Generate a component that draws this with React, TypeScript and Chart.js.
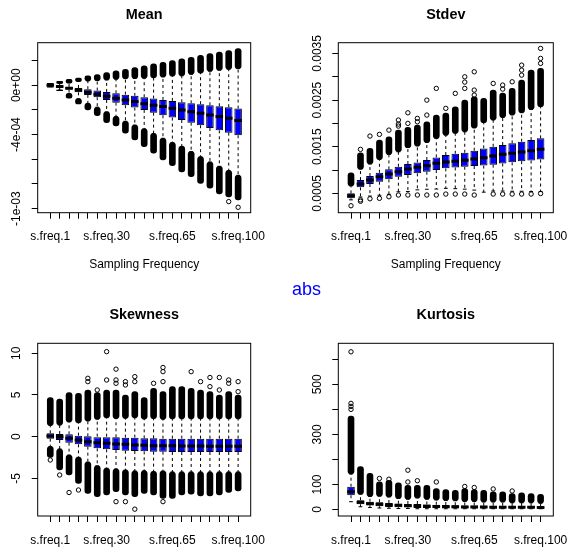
import React, { useEffect, useRef } from 'react';
import { Chart, registerables } from 'chart.js';

Chart.register(...registerables);

const FONT = "'Liberation Sans', Arial, Helvetica, sans-serif";

// Sampling frequencies on the x axis (one box per frequency)
const categories = [
  's.freq.1', 's.freq.5', 's.freq.10', 's.freq.15', 's.freq.20', 's.freq.25', 's.freq.30',
  's.freq.35', 's.freq.40', 's.freq.45', 's.freq.50', 's.freq.55', 's.freq.60', 's.freq.65',
  's.freq.70', 's.freq.75', 's.freq.80', 's.freq.85', 's.freq.90', 's.freq.95', 's.freq.100',
];
const labelledCategories = ['s.freq.1', 's.freq.30', 's.freq.65', 's.freq.100'];

// ---- Mean ----
const meanQ3 = [0.03e-4, -0.05e-4, -0.14e-4, -0.22e-4, -0.32e-4, -0.43e-4, -0.54e-4, -0.65e-4, -0.76e-4, -0.86e-4, -0.97e-4, -1.08e-4, -1.19e-4, -1.27e-4, -1.38e-4, -1.46e-4, -1.54e-4, -1.62e-4, -1.70e-4, -1.78e-4, -1.89e-4];
const meanMed = [0, -0.11e-4, -0.24e-4, -0.38e-4, -0.57e-4, -0.73e-4, -0.89e-4, -1.05e-4, -1.19e-4, -1.32e-4, -1.49e-4, -1.62e-4, -1.73e-4, -1.86e-4, -2.00e-4, -2.14e-4, -2.27e-4, -2.41e-4, -2.54e-4, -2.68e-4, -2.86e-4];
const meanQ1 = [-0.03e-4, -0.19e-4, -0.35e-4, -0.57e-4, -0.78e-4, -0.97e-4, -1.19e-4, -1.41e-4, -1.62e-4, -1.81e-4, -2.00e-4, -2.22e-4, -2.43e-4, -2.62e-4, -2.81e-4, -3.03e-4, -3.24e-4, -3.46e-4, -3.65e-4, -3.84e-4, -4.05e-4];
const meanHi = [0.11e-4, 0.15e-4, 0.19e-4, 0.31e-4, 0.36e-4, 0.38e-4, 0.43e-4, 0.49e-4, 0.54e-4, 0.55e-4, 0.57e-4, 0.62e-4, 0.68e-4, 0.76e-4, 0.77e-4, 0.89e-4, 1.01e-4, 1.14e-4, 1.22e-4, 1.30e-4, 1.35e-4];
const meanLo = [-0.11e-4, -0.39e-4, -0.68e-4, -1.09e-4, -1.47e-4, -1.78e-4, -2.16e-4, -2.54e-4, -2.92e-4, -3.23e-4, -3.54e-4, -3.92e-4, -4.30e-4, -4.65e-4, -4.96e-4, -5.38e-4, -5.80e-4, -6.22e-4, -6.57e-4, -6.92e-4, -7.30e-4];
const meanUpTop = [0.16e-4, 0.32e-4, 0.49e-4, 0.59e-4, 0.76e-4, 0.86e-4, 1.03e-4, 1.16e-4, 1.30e-4, 1.43e-4, 1.57e-4, 1.73e-4, 1.86e-4, 2.00e-4, 2.14e-4, 2.27e-4, 2.43e-4, 2.57e-4, 2.68e-4, 2.81e-4, 2.97e-4];
const meanDownBottom = [-0.16e-4, -0.43e-4, -1.05e-4, -1.51e-4, -2.00e-4, -2.46e-4, -3.03e-4, -3.30e-4, -3.89e-4, -4.43e-4, -4.97e-4, -5.51e-4, -6.05e-4, -6.51e-4, -7.03e-4, -7.41e-4, -7.95e-4, -8.35e-4, -8.81e-4, -9.05e-4, -9.30e-4];
const meanOutliers: [number, number][] = [[19, -9.43e-4], [20, -9.89e-4]];
const meanTicks = [-10e-4, -8e-4, -6e-4, -4e-4, -2e-4, 0, 2e-4];
const meanTickLabels = ['-1e-03', '', '', '-4e-04', '', '0e+00', ''];

// ---- Stdev ----
const sdQ3 = [5.00e-4, 7.85e-4, 8.71e-4, 9.41e-4, 10.14e-4, 10.70e-4, 11.28e-4, 11.64e-4, 12.14e-4, 12.71e-4, 13.21e-4, 13.49e-4, 13.70e-4, 14.13e-4, 14.64e-4, 14.99e-4, 15.35e-4, 15.72e-4, 16.06e-4, 16.42e-4, 16.79e-4];
const sdMed = [4.49e-4, 6.99e-4, 7.85e-4, 8.56e-4, 9.14e-4, 9.63e-4, 10.21e-4, 10.57e-4, 10.91e-4, 11.43e-4, 11.71e-4, 11.88e-4, 12.07e-4, 12.35e-4, 12.63e-4, 12.99e-4, 13.36e-4, 13.57e-4, 13.85e-4, 14.13e-4, 14.43e-4];
const sdQ1 = [3.93e-4, 6.29e-4, 6.99e-4, 7.49e-4, 8.00e-4, 8.56e-4, 8.92e-4, 9.29e-4, 9.63e-4, 9.99e-4, 10.36e-4, 10.55e-4, 10.70e-4, 10.85e-4, 10.95e-4, 11.15e-4, 11.40e-4, 11.65e-4, 11.90e-4, 12.05e-4, 12.25e-4];
const sdHi = [6.61e-4, 10.19e-4, 11.29e-4, 12.29e-4, 13.35e-4, 13.91e-4, 14.82e-4, 15.17e-4, 15.91e-4, 16.79e-4, 17.49e-4, 17.90e-4, 18.20e-4, 19.05e-4, 20.18e-4, 20.75e-4, 21.28e-4, 21.83e-4, 22.30e-4, 22.98e-4, 23.60e-4];
const sdLo = [3.60e-4, 4.21e-4, 4.42e-4, 4.59e-4, 4.79e-4, 5.34e-4, 5.39e-4, 5.75e-4, 5.88e-4, 5.92e-4, 6.07e-4, 6.00e-4, 5.90e-4, 5.70e-4, 5.25e-4, 5.50e-4, 5.50e-4, 5.45e-4, 5.45e-4, 5.40e-4, 5.40e-4];
const sdUpTop = [9.41e-4, 13.70e-4, 14.64e-4, 16.42e-4, 17.13e-4, 18.56e-4, 19.14e-4, 19.64e-4, 20.34e-4, 21.78e-4, 22.21e-4, 23.56e-4, 24.99e-4, 25.70e-4, 25.36e-4, 27.14e-4, 26.49e-4, 27.50e-4, 29.28e-4, 31.42e-4, 31.78e-4];
const sdDownBottom: (number | null)[] = categories.map(() => null);
const sdOutliers: [number, number][] = [
  [0, 2.34e-4], [1, 3.30e-4], [1, 3.60e-4], [1, 14.43e-4], [2, 3.84e-4], [2, 17.28e-4],
  [3, 3.93e-4], [3, 17.64e-4], [4, 4.27e-4], [4, 18.56e-4], [5, 4.64e-4], [5, 19.42e-4],
  [5, 19.85e-4], [5, 20.71e-4], [6, 4.64e-4], [6, 20.00e-4], [6, 22.27e-4], [7, 4.64e-4],
  [7, 20.34e-4], [7, 21.07e-4], [8, 4.64e-4], [8, 21.78e-4], [8, 24.99e-4], [9, 4.64e-4],
  [9, 27.50e-4], [10, 4.85e-4], [10, 23.22e-4], [11, 4.85e-4], [11, 26.43e-4], [12, 4.85e-4],
  [12, 27.50e-4], [12, 28.85e-4], [12, 29.99e-4], [13, 4.64e-4], [13, 26.07e-4], [13, 27.14e-4],
  [13, 31.06e-4], [15, 4.85e-4], [15, 28.57e-4], [16, 4.85e-4], [16, 27.35e-4], [16, 28.21e-4],
  [17, 4.85e-4], [17, 28.92e-4], [18, 4.85e-4], [18, 30.35e-4], [18, 31.42e-4], [18, 32.49e-4],
  [19, 4.85e-4], [20, 4.96e-4], [20, 32.86e-4], [20, 33.93e-4], [20, 36.07e-4],
];
const sdTicks = [5e-4, 10e-4, 15e-4, 20e-4, 25e-4, 30e-4, 35e-4];
const sdTickLabels = ['0.0005', '', '0.0015', '', '0.0025', '', '0.0035'];

// ---- Skewness ----
const skQ3 = [0.40, 0.32, 0.28, 0.12, 0.04, 0.00, 0.00, -0.08, -0.12, -0.12, -0.20, -0.20, -0.24, -0.24, -0.24, -0.24, -0.24, -0.24, -0.24, -0.24, -0.24];
const skMed = [0.08, 0.00, -0.20, -0.40, -0.60, -0.72, -0.80, -0.88, -0.92, -1.00, -1.04, -1.08, -1.10, -1.10, -1.12, -1.12, -1.12, -1.14, -1.14, -1.14, -1.14];
const skQ1 = [-0.24, -0.40, -0.72, -0.92, -1.20, -1.40, -1.52, -1.60, -1.68, -1.72, -1.76, -1.80, -1.80, -1.84, -1.84, -1.84, -1.84, -1.84, -1.84, -1.84, -1.84];
const skHi = [1.36, 1.40, 1.78, 1.68, 1.90, 2.10, 2.28, 2.20, 2.22, 2.28, 2.14, 2.20, 2.10, 2.16, 2.16, 2.16, 2.16, 2.16, 2.16, 2.16, 2.16];
const skLo = [-1.20, -1.48, -2.22, -2.48, -3.06, -3.50, -3.80, -3.88, -4.02, -4.12, -4.10, -4.20, -4.14, -4.24, -4.24, -4.24, -4.24, -4.24, -4.24, -4.24, -4.24];
const skUpTop = [4.70, 4.50, 5.30, 5.20, 5.60, 5.30, 5.60, 5.60, 5.00, 5.40, 4.70, 5.80, 5.40, 6.00, 6.00, 5.80, 5.60, 5.40, 5.00, 5.40, 5.00];
const skDownBottom = [-2.50, -4.00, -4.60, -5.60, -6.80, -7.20, -7.00, -6.60, -7.00, -7.20, -6.80, -7.00, -7.40, -7.40, -7.00, -6.90, -7.10, -7.10, -7.00, -6.70, -6.50];
const skOutliers: [number, number][] = [
  [0, -2.8], [1, -4.6], [2, -6.7], [3, -6.4], [4, 7.0], [4, 6.6], [5, 5.6], [6, 10.2], [6, 6.8],
  [7, 8.1], [7, 6.8], [7, 6.4], [7, -7.8], [8, 6.6], [8, 6.2], [8, -7.8], [9, 7.2], [9, 6.6],
  [9, -8.7], [11, 6.4], [12, 8.3], [12, 7.8], [12, 6.6], [12, -7.8], [15, 7.8], [16, 6.6],
  [17, 7.1], [17, 6.0], [18, 7.1], [18, 5.6], [19, 6.8], [19, 6.4], [20, 6.6], [20, 5.4],
];
const skTicks = [-5, 0, 5, 10];
const skTickLabels = ['-5', '0', '5', '10'];

// ---- Kurtosis ----
const kuQ3 = [91, 37, 31, 29, 26, 23, 22, 22, 20, 19, 18, 17, 16, 16, 15, 15, 15, 14, 14, 14, 13];
const kuMed = [71, 29, 23, 21, 18, 17, 15, 14, 13, 12, 11, 11, 10, 10, 10, 9, 9, 9, 9, 9, 8];
const kuQ1 = [57, 21, 17, 13, 10, 9, 9, 6, 6, 6, 6, 5, 5, 5, 5, 5, 5, 5, 5, 5, 5];
const kuHi = [142, 61, 52, 53, 50, 44, 41, 46, 41, 38, 36, 35, 32, 32, 30, 30, 30, 27, 27, 27, 25];
const kuLo = [31, 11, 8, 6, 5, 4, 4, 3, 3, 3, 3, 3, 3, 3, 3, 3, 3, 3, 3, 3, 3];
const kuUpTop = [373, 171, 144, 111, 117, 107, 97, 97, 97, 84, 80, 77, 84, 80, 77, 71, 71, 64, 67, 64, 61];
const kuDownBottom: (number | null)[] = categories.map(() => null);
const kuOutliers: [number, number][] = [
  [0, 630], [0, 424], [0, 412], [0, 400], [3, 124], [4, 121], [6, 157], [6, 110], [7, 115],
  [9, 110], [12, 92], [13, 88], [15, 82], [17, 74],
];
const kuTicks = [0, 100, 200, 300, 400, 500, 600];
const kuTickLabels = ['0', '100', '', '300', '', '500', ''];

type Stats = {
  title: string;
  q1: number[]; med: number[]; q3: number[]; lo: number[]; hi: number[];
  upTop: (number | null)[]; downBottom: (number | null)[];
  outliers: [number, number][];
  yMin: number; yMax: number;
  ticks: number[]; tickLabels: string[];
  xTitle: string | null;
};

type Frame = {
  x: number; y: number; width: number; height: number;
  plotLeft: number; plotTop: number; plotRight: number; plotBottom: number;
};

const panels: { stats: Stats; frame: Frame }[] = [
  {
    stats: {
      title: 'Mean', q1: meanQ1, med: meanMed, q3: meanQ3, lo: meanLo, hi: meanHi,
      upTop: meanUpTop, downBottom: meanDownBottom, outliers: meanOutliers,
      yMin: -10.33e-4, yMax: 3.45e-4, ticks: meanTicks, tickLabels: meanTickLabels,
      xTitle: 'Sampling Frequency',
    },
    frame: { x: 0, y: 0, width: 284, height: 274, plotLeft: 37.7, plotTop: 42.7, plotRight: 250.7, plotBottom: 212.7 },
  },
  {
    stats: {
      title: 'Stdev', q1: sdQ1, med: sdMed, q3: sdQ3, lo: sdLo, hi: sdHi,
      upTop: sdUpTop, downBottom: sdDownBottom, outliers: sdOutliers,
      yMin: 0.85e-4, yMax: 37.3e-4, ticks: sdTicks, tickLabels: sdTickLabels,
      xTitle: 'Sampling Frequency',
    },
    frame: { x: 284, y: 0, width: 284, height: 274, plotLeft: 54.3, plotTop: 42.7, plotRight: 269.3, plotBottom: 212.7 },
  },
  {
    stats: {
      title: 'Skewness', q1: skQ1, med: skMed, q3: skQ3, lo: skLo, hi: skHi,
      upTop: skUpTop, downBottom: skDownBottom, outliers: skOutliers,
      yMin: -9.52, yMax: 11.2, ticks: skTicks, tickLabels: skTickLabels,
      xTitle: null,
    },
    frame: { x: 0, y: 274, width: 284, height: 275, plotLeft: 37.7, plotTop: 69.3, plotRight: 250.7, plotBottom: 242 },
  },
  {
    stats: {
      title: 'Kurtosis', q1: kuQ1, med: kuMed, q3: kuQ3, lo: kuLo, hi: kuHi,
      upTop: kuUpTop, downBottom: kuDownBottom, outliers: kuOutliers,
      yMin: -26, yMax: 664, ticks: kuTicks, tickLabels: kuTickLabels,
      xTitle: null,
    },
    frame: { x: 284, y: 274, width: 284, height: 275, plotLeft: 54.3, plotTop: 69.3, plotRight: 269.3, plotBottom: 242 },
  },
];

// pixels per category step on the x scale
const unitPx = (chart: any) => {
  const sx = chart.scales.x;
  return Math.abs(sx.getPixelForValue(1) - sx.getPixelForValue(0));
};

function makeDecorations(s: Stats) {
  return {
    id: 'boxplotFrame',
    afterDraw(chart: any) {
      const { ctx, chartArea: a, scales } = chart;
      ctx.save();
      ctx.strokeStyle = '#000';
      ctx.lineWidth = 1;
      ctx.strokeRect(a.left, a.top, a.right - a.left, a.bottom - a.top);
      ctx.fillStyle = '#000';
      ctx.textAlign = 'center';
      ctx.textBaseline = 'middle';
      ctx.font = `bold 14.4px ${FONT}`;
      ctx.fillText(s.title, (a.left + a.right) / 2, a.top - 28);
      ctx.font = `12px ${FONT}`;
      s.ticks.forEach((v, k) => {
        const label = s.tickLabels[k];
        if (!label) return;
        const py = scales.y.getPixelForValue(v);
        ctx.save();
        ctx.translate(a.left - 21, py);
        ctx.rotate(-Math.PI / 2);
        ctx.fillText(label, 0, 0);
        ctx.restore();
      });
      if (s.xTitle) {
        ctx.fillText(s.xTitle, (a.left + a.right) / 2, a.bottom + 52.3);
      }
      ctx.restore();
    },
  };
}

function buildConfig(s: Stats, f: Frame): any {
  const whiskers: { x: number; y: number | null }[] = [];
  categories.forEach((_, i) => {
    const x = i + 1;
    whiskers.push({ x, y: s.q3[i] }, { x, y: s.hi[i] }, { x, y: null });
    whiskers.push({ x, y: s.q1[i] }, { x, y: s.lo[i] }, { x, y: null });
  });
  const staples = categories.flatMap((_, i) => [{ x: i + 1, y: s.hi[i] }, { x: i + 1, y: s.lo[i] }]);
  const boxes = categories.map((_, i) => ({ x: i + 1, y: [s.q1[i], s.q3[i]] }));
  const medians = categories.map((_, i) => ({ x: i + 1, y: s.med[i] }));
  const upper = categories.flatMap((_, i) =>
    s.upTop[i] == null ? [] : [{ x: i + 1, y: [s.hi[i], s.upTop[i] as number] }]);
  const lower = categories.flatMap((_, i) =>
    s.downBottom[i] == null ? [] : [{ x: i + 1, y: [s.downBottom[i] as number, s.lo[i]] }]);
  const points = s.outliers.map(([i, v]) => ({ x: i + 1, y: v }));

  // dense runs of outlier circles, drawn as solid rounded columns
  const cloud = {
    type: 'bar',
    backgroundColor: '#000',
    borderWidth: 0,
    barThickness: 6,
    borderRadius: 3,
    borderSkipped: false,
    grouped: false,
  };

  return {
    type: 'bar',
    data: {
      datasets: [
        {
          type: 'line', label: 'whiskers', data: whiskers, borderColor: '#000', borderWidth: 1,
          borderDash: [3, 3], pointRadius: 0, spanGaps: false, order: 7,
        },
        {
          type: 'line', label: 'staples', data: staples, showLine: false, pointStyle: 'line',
          pointRadius: (c: any) => unitPx(c.chart) * 0.2, pointBorderWidth: 1, pointBorderColor: '#000', order: 6,
        },
        {
          type: 'bar', label: 'boxes', data: boxes, backgroundColor: '#0000FF', borderColor: '#000',
          borderWidth: 1, borderSkipped: false, grouped: false, barPercentage: 0.8, categoryPercentage: 1, order: 5,
        },
        {
          type: 'line', label: 'medians', data: medians, showLine: false, pointStyle: 'line',
          pointRadius: (c: any) => unitPx(c.chart) * 0.4, pointBorderWidth: 3, pointBorderColor: '#000', order: 4,
        },
        { ...cloud, label: 'upper outliers', data: upper, order: 3 },
        { ...cloud, label: 'lower outliers', data: lower, order: 2 },
        {
          type: 'line', label: 'outliers', data: points, showLine: false, pointStyle: 'circle',
          pointRadius: 2.2, pointBorderWidth: 1, pointBorderColor: '#000',
          pointBackgroundColor: 'rgba(0,0,0,0)', order: 1,
        },
      ],
    },
    options: {
      responsive: false,
      animation: false,
      events: [],
      layout: { padding: { left: 0, top: f.plotTop, right: f.width - f.plotRight, bottom: 0 } },
      plugins: { legend: { display: false }, tooltip: { enabled: false }, title: { display: false } },
      scales: {
        x: {
          type: 'linear',
          min: 1 - 1.34,
          max: categories.length + 1.34,
          offset: false,
          grid: { display: true, offset: false, drawOnChartArea: false, drawTicks: true, tickLength: 6, color: '#000', lineWidth: 1 },
          border: { display: false },
          ticks: {
            autoSkip: false, maxRotation: 0, minRotation: 0, padding: 11, color: '#000',
            font: { family: FONT, size: 12 },
            callback: (_v: any, idx: number) =>
              labelledCategories.includes(categories[idx]) ? categories[idx] : '',
          },
          afterBuildTicks: (sc: any) => { sc.ticks = categories.map((_, i) => ({ value: i + 1 })); },
          afterFit: (sc: any) => { sc.height = f.height - f.plotBottom; sc.paddingLeft = 0; sc.paddingRight = 0; },
        },
        y: {
          type: 'linear',
          min: s.yMin,
          max: s.yMax,
          beginAtZero: false,
          grid: { display: true, drawOnChartArea: false, drawTicks: true, tickLength: 6, color: '#000', lineWidth: 1 },
          border: { display: false },
          ticks: { display: false },
          afterBuildTicks: (sc: any) => { sc.ticks = s.ticks.map((v) => ({ value: v })); },
          afterFit: (sc: any) => { sc.width = f.plotLeft; sc.paddingTop = 0; sc.paddingBottom = 0; },
        },
      },
    },
    plugins: [makeDecorations(s)],
  };
}

function BoxPanel({ stats, frame }: { stats: Stats; frame: Frame }) {
  const ref = useRef<HTMLCanvasElement>(null);
  useEffect(() => {
    if (!ref.current) return;
    const chart = new Chart(ref.current, buildConfig(stats, frame));
    return () => chart.destroy();
  }, [stats, frame]);
  return (
    <canvas
      ref={ref}
      width={frame.width}
      height={frame.height}
      style={{ position: 'absolute', left: frame.x, top: frame.y, width: frame.width, height: frame.height }}
    />
  );
}

export default function App() {
  return (
    <div style={{ position: 'fixed', left: 0, top: 0, width: 568, height: 549, background: '#fff', overflow: 'hidden' }}>
      {panels.map((p) => (
        <BoxPanel key={p.stats.title} stats={p.stats} frame={p.frame} />
      ))}
      <div
        style={{
          position: 'absolute', left: 292, top: 279, fontFamily: FONT, fontSize: 18,
          lineHeight: '20px', color: '#0000FF', whiteSpace: 'nowrap',
        }}
      >
        abs
      </div>
    </div>
  );
}
